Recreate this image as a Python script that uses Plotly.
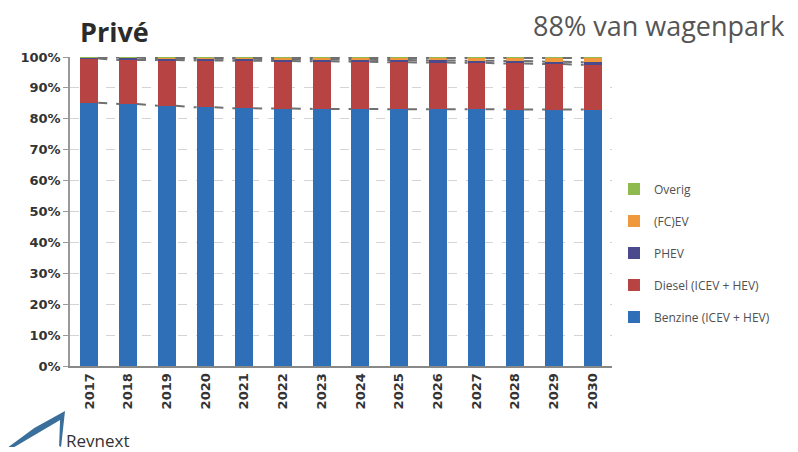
import plotly.graph_objects as go

years = [str(y) for y in range(2017, 2031)]
benzine = [85.2, 84.8, 84.2, 83.7, 83.4, 83.3, 83.2, 83.2, 83.1, 83.1, 83.1, 83.0, 83.0, 83.0]
diesel = [14.3, 14.2, 14.8, 15.2, 15.4, 15.4, 15.4, 15.3, 15.2, 15.1, 15.0, 14.9, 14.7, 14.5]
phev = [0.3, 0.8, 0.5, 0.5, 0.6, 0.6, 0.6, 0.6, 0.7, 0.7, 0.7, 0.8, 0.8, 0.8]
fcev = [0.1, 0.1, 0.2, 0.3, 0.3, 0.4, 0.5, 0.6, 0.7, 0.8, 0.9, 1.0, 1.2, 1.4]
overig = [0.1, 0.1, 0.3, 0.3, 0.3, 0.3, 0.3, 0.3, 0.3, 0.3, 0.3, 0.3, 0.3, 0.3]

series = [
    ("Benzine (ICEV + HEV)", benzine, "#2f6fb7"),
    ("Diesel (ICEV + HEV)", diesel, "#b84343"),
    ("PHEV", phev, "#4a4a8c"),
    ("(FC)EV", fcev, "#f0993c"),
    ("Overig", overig, "#8fba4f"),
]

bar_w = 0.46
xs = list(range(len(years)))

# page body has an 8px margin, so the figure is drawn 8px smaller and offset
W, H = 790, 444
ML, MR, MT, MB = 58, 186, 49, 86
pw = W - ML - MR
ph = H - MT - MB


def px2paper(x, y):
    # x, y in reference (window) pixels
    return (x - 8 - ML) / pw, (H - MB - (y - 8)) / ph


fig = go.Figure()

# excel-style series lines between the stacked segments
cum = [0.0] * len(years)
for name, vals, col in series:
    cum = [c + v for c, v in zip(cum, vals)]
    lx, ly = [], []
    for i in range(len(years) - 1):
        lx += [xs[i] + bar_w / 2, xs[i + 1] - bar_w / 2, None]
        ly += [cum[i], cum[i + 1], None]
    fig.add_trace(go.Scatter(x=lx, y=ly, mode="lines", showlegend=False, hoverinfo="skip",
                             line=dict(color="#707070", width=2, dash="dash")))

for k, (name, vals, col) in enumerate(series):
    fig.add_trace(go.Bar(x=xs, y=vals, name=name, marker_color=col, width=bar_w,
                         marker_line_width=0, legendgroup=name,
                         legendrank=1000 - k))

lx0, ly0 = px2paper(614, 253)
fig.update_layout(
    barmode="stack",
    width=W, height=H,
    margin=dict(l=ML, r=MR, t=MT, b=MB),
    paper_bgcolor="white", plot_bgcolor="white",
    font=dict(family="Open Sans", color="#444444", size=12),
    legend=dict(x=lx0, y=ly0, xanchor="left", yanchor="middle", traceorder="grouped",
                font=dict(size=12, color="#505050"), itemwidth=30, tracegroupgap=13,
                bgcolor="rgba(0,0,0,0)"),
    xaxis=dict(range=[-0.5, 13.5], tickmode="array", tickvals=xs, ticktext=years,
               tickangle=-90, showgrid=False, showline=True, linecolor="#888888", linewidth=2,
               ticks="", tickfont=dict(size=13, color="#333333", family="DejaVu Sans", weight="bold"),
               zeroline=False),
    yaxis=dict(range=[0, 100], dtick=10, ticksuffix="%", showgrid=True, gridcolor="#d4d4d4",
               griddash="dash", showline=True, linecolor="#999999", linewidth=1.5,
               ticks="outside", ticklen=5, tickcolor="#999999",
               tickfont=dict(size=13, color="#333333", family="DejaVu Sans", weight="bold"),
               zeroline=False),
)

for text, x, y, size, color, anchor in [
    ("<b>Privé</b>", 74, 32, 27, "#2b2b2b", "left"),
    ("88% van wagenpark", 787, 26, 27, "#555555", "right"),
    ("Revnext", 60, 440, 17, "#333333", "left"),
]:
    ax, ay = px2paper(x, y)
    fig.add_annotation(text=text, x=ax, y=ay, xref="paper", yref="paper", showarrow=False,
                       font=dict(size=size, color=color, family="Open Sans"),
                       xanchor=anchor, yanchor="middle")

# Revnext logo swoosh
p = [px2paper(*pt) for pt in [(4, 447), (30, 428), (61, 411), (57, 447), (55, 446), (56, 420), (10, 447)]]
path = "M " + " L ".join(f"{a:.4f},{b:.4f}" for a, b in p) + " Z"
fig.add_shape(type="path", path=path, xref="paper", yref="paper", fillcolor="#3a6f9c",
              line=dict(width=0))

fig.write_html("out.html")
